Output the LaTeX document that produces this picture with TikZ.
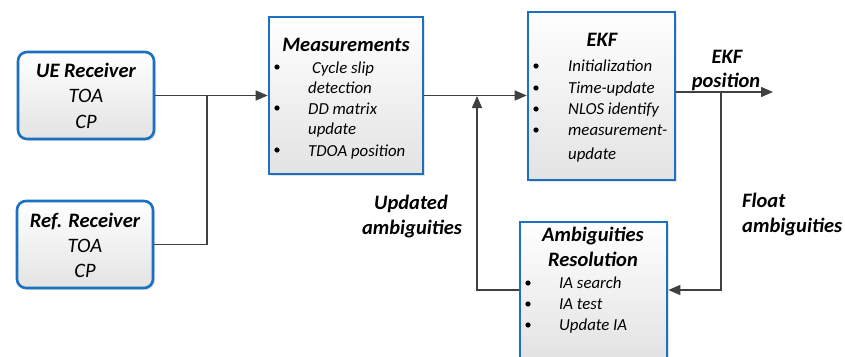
\documentclass[tikz,border=0pt]{standalone}
\usepackage{fontspec}
\setmainfont{Carlito}
\usetikzlibrary{arrows.meta,shadows}
\definecolor{boxblue}{RGB}{27,112,192}
\definecolor{linegray}{RGB}{64,64,64}
\begin{document}
\begin{tikzpicture}[x=1pt,y=-1pt,
  blockbox/.style={draw=boxblue, line width=2.6pt, top color=white, bottom color=black!11,
    inner sep=0pt, drop shadow={opacity=0.22, shadow xshift=2pt, shadow yshift=-2pt}},
  rxbox/.style={blockbox, rounded corners=9pt},
  ttl/.style={font=\fontsize{20.5}{24}\selectfont\bfseries\itshape, anchor=base, inner sep=0pt},
  rxt/.style={font=\fontsize{20.5}{24}\selectfont\itshape, anchor=base, inner sep=0pt},
  itm/.style={font=\fontsize{16.8}{20}\selectfont\itshape, anchor=base west, inner sep=0pt},
  dot/.style={circle, fill=black, inner sep=0pt, minimum size=5.2pt},
  lbl/.style={font=\fontsize{20.5}{24}\selectfont\bfseries\itshape, inner sep=0pt},
  conn/.style={draw=linegray, line width=1.4pt},
  arr/.style={conn, -{Triangle[length=12pt,width=10pt]}, shorten >=0pt}
]
\useasboundingbox (0,0) rectangle (845,356);
\clip (0,0) rectangle (845,356);

% boxes
\node[rxbox, minimum width=136pt, minimum height=87pt] (ue) at (86,95.5) {};
\node[rxbox, minimum width=136pt, minimum height=87pt] (ref) at (85,244.5) {};
\node[blockbox, minimum width=154pt, minimum height=157pt] (meas) at (346,95.5) {};
\node[blockbox, minimum width=147pt, minimum height=168pt] (ekf) at (601.5,96) {};
\node[blockbox, minimum width=147pt, minimum height=136pt] (amb) at (593.5,290) {};

% UE receiver text
\node[ttl] (ue1) at (86,77) {UE Receiver};
\node[rxt] (ue2) at (86,102) {TOA};
\node[rxt] (ue3) at (86,128) {CP};
% Ref receiver text
\node[ttl] (rf1) at (85,227) {Ref. Receiver};
\node[rxt] (rf2) at (85,252) {TOA};
\node[rxt] (rf3) at (85,277) {CP};

% Measurements text
\node[ttl] (m0) at (346,51) {Measurements};
\node[dot] (md1) at (277,67) {};
\node[dot] (md2) at (277,108) {};
\node[dot] (md3) at (277,150) {};
\node[itm] (m1) at (312,73) {Cycle slip};
\node[itm] (m2) at (308,93.5) {detection};
\node[itm] (m3) at (308,114) {DD matrix};
\node[itm] (m4) at (308,134.5) {update};
\node[itm] (m5) at (308,156) {TDOA position};

% EKF text
\node[ttl] (k0) at (602,46) {EKF};
\node[dot] (kd1) at (536,66) {};
\node[dot] (kd2) at (536,88) {};
\node[dot] (kd3) at (536,109) {};
\node[dot] (kd4) at (536,130) {};
\node[itm] (k1) at (568,71) {Initialization};
\node[itm] (k2) at (568,93) {Time-update};
\node[itm] (k3) at (568,114) {NLOS identify};
\node[itm] (k4) at (568,135) {measurement-};
\node[itm] (k5) at (568,159) {update};

% Ambiguities text
\node[ttl] (a0) at (593,241) {Ambiguities};
\node[ttl] (a1) at (593,266) {Resolution};
\node[dot] (ad1) at (528,283) {};
\node[dot] (ad2) at (528,304) {};
\node[dot] (ad3) at (528,325) {};
\node[itm] (a2) at (559,288) {IA search};
\node[itm] (a3) at (559,309) {IA test};
\node[itm] (a4) at (559,330) {Update IA};

% connectors
\coordinate (j1) at (207,95.5);
\coordinate (j2) at (207,244.5);
\draw[arr] (ue.east) -- (meas.west);
\draw[conn] (ref.east) -- (j2) -- (j1);
\draw[arr] (meas.east) -- (ekf.west |- meas.east);
\coordinate (uj) at (477,96);
\draw[arr] (amb.west) -- (amb.west -| uj) -- (uj);
\coordinate (eout) at (773,92);
\coordinate (fj) at (721,92);
\draw[arr] (ekf.east |- eout) -- (eout);
\draw[arr] (fj) -- (fj |- amb.east) -- (amb.east);

% labels
\node[lbl, anchor=base] (l1) at (727,63) {EKF};
\node[lbl, anchor=base] (l2) at (726,87) {position};
\node[lbl, anchor=base west] (l3) at (742,207) {Float};
\node[lbl, anchor=base west] (l4) at (742,232) {ambiguities};
\node[lbl, anchor=base] (l5) at (411,209) {Updated};
\node[lbl, anchor=base] (l6) at (412,234) {ambiguities};
\end{tikzpicture}
\end{document}
